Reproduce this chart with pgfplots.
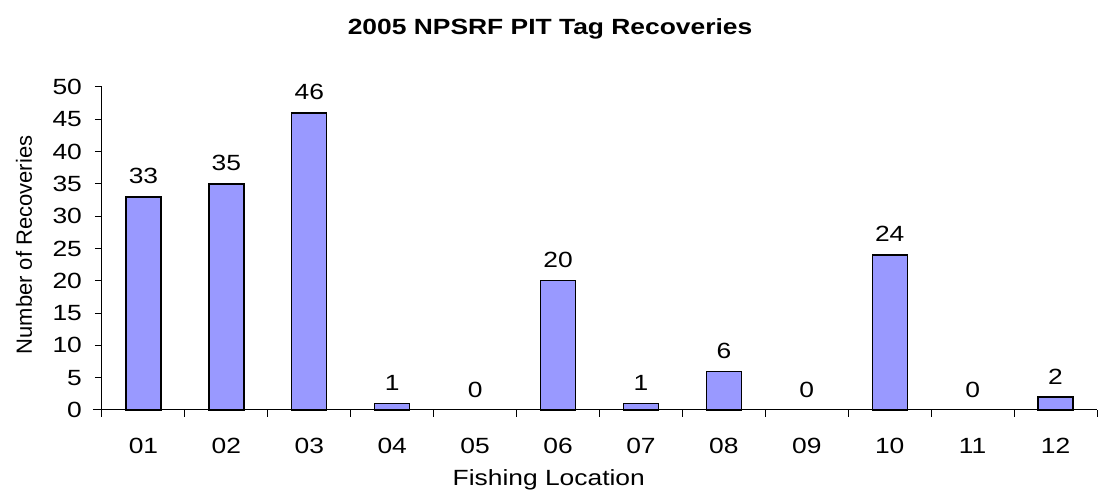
\documentclass[border=0pt]{standalone}
\usepackage{fontspec}
\setmainfont[FakeStretch=1.2]{Liberation Sans}
\newfontfamily\plainfont{Liberation Sans}
\usepackage{pgfplots}
\pgfplotsset{compat=1.18}
\definecolor{barblue}{HTML}{9999FF}
\begin{document}
\begin{tikzpicture}[font=\fontsize{11}{13}\selectfont]
\path[use as bounding box] (-51pt,-43pt) rectangle (498pt,205pt);
\begin{axis}[
  at={(0,0)}, anchor=south west,
  scale only axis,
  width=497.5pt, height=161.5pt,
  /pgf/number format/assume math mode=true,
  axis x line*=bottom, axis y line*=left,
  axis line style={black, line width=0.5pt},
  xmin=-0.5, xmax=11.5, ymin=0, ymax=50,
  enlargelimits=false,
  xtick={-0.5,0.5,1.5,2.5,3.5,4.5,5.5,6.5,7.5,8.5,9.5,10.5,11.5},
  x tick label as interval,
  xticklabels={01,02,03,04,05,06,07,08,09,10,11,12},
  ytick={0,5,...,50},
  tick align=outside,
  major tick length=3.5pt,
  tick style={black, line width=0.5pt},
  ticklabel style={font=\fontsize{11}{13}\selectfont},
  yticklabel style={xshift=-3pt},
  xticklabel style={yshift=-7pt},
  nodes near coords,
  every node near coord/.append style={font=\fontsize{11}{13}\selectfont, yshift=2.8pt},
  clip=false,
]
\addplot[ybar, bar width=17.5pt, fill=barblue, draw=black, line width=0.7pt]
  coordinates {(0,33) (1,35) (2,46) (3,1) (5,20) (6,1) (7,6) (9,24) (11,2)};
\addplot[ybar, bar width=17.5pt, fill=none, draw=none]
  coordinates {(4,0) (8,0) (10,0)};
\draw[black, line width=0.5pt] ([xshift=-4.5pt]rel axis cs:0,0) -- (rel axis cs:0,0);
\node[anchor=base, font=\bfseries\fontsize{11}{13}\selectfont] at ([yshift=26pt]rel axis cs:0.4503,1) {2005 NPSRF PIT Tag Recoveries};
\node[anchor=base] at ([yshift=-38pt]rel axis cs:0.449,0) {Fishing Location};
\node[anchor=base, rotate=90, font=\plainfont\fontsize{11}{13}\selectfont] at ([xshift=-35pt]rel axis cs:0,0.511) {Number of Recoveries};
\end{axis}
\end{tikzpicture}
\end{document}
